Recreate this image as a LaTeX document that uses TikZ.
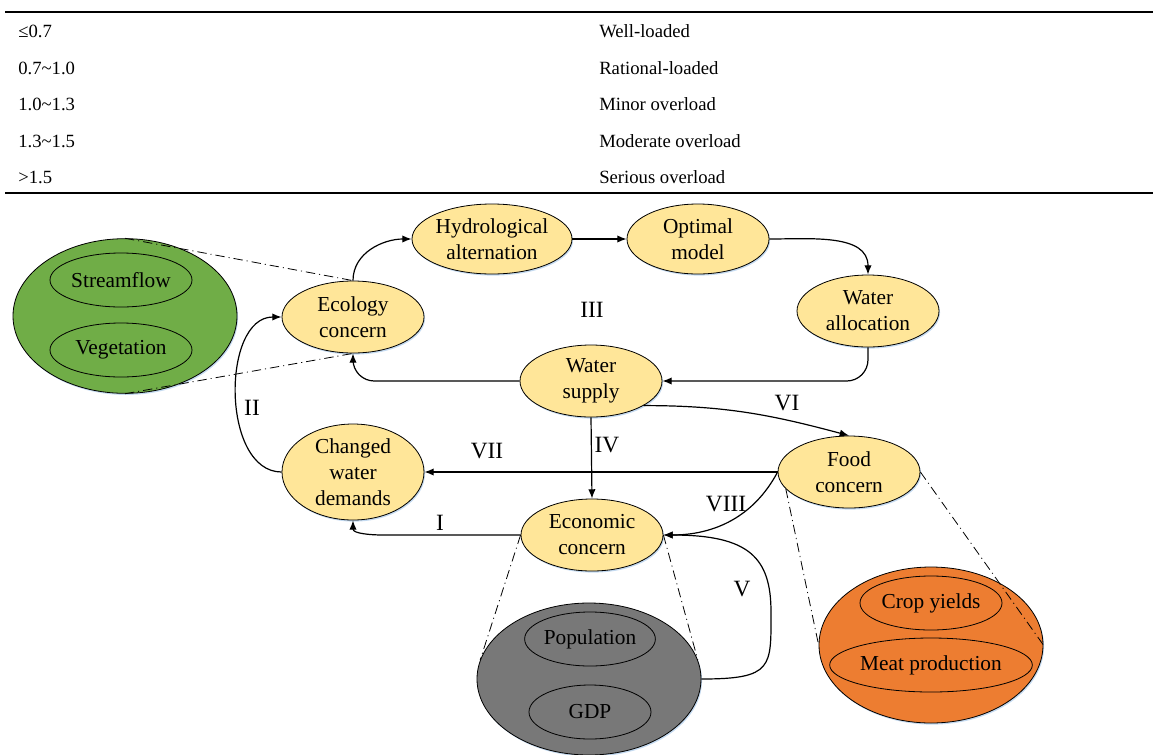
\documentclass[tikz,border=0pt]{standalone}
\usepackage{fontspec}
\setmainfont{Liberation Serif}
\usetikzlibrary{arrows.meta,shapes.geometric,shadows,calc}
\definecolor{yel}{RGB}{255,230,153}
\definecolor{grn}{RGB}{112,173,71}
\definecolor{gry}{RGB}{120,120,120}
\definecolor{org}{RGB}{237,125,49}
\definecolor{shd}{RGB}{196,218,240}
\begin{document}
\begin{tikzpicture}[x=0.75pt,y=0.75pt,
  ell/.style={ellipse, draw=black, line width=0.6pt, inner sep=0pt, align=center,
    font=\fontsize{16}{19.5}\selectfont},
  concept/.style={ell, fill=yel, minimum width=106.5pt, minimum height=54pt,
    drop shadow={shadow xshift=0.8pt, shadow yshift=-1.2pt, fill=shd, opacity=1}},
  bigell/.style={ell, minimum width=168pt, minimum height=116pt,
    drop shadow={shadow xshift=0.8pt, shadow yshift=-1.2pt, fill=shd, opacity=1}},
  sub/.style={ell, minimum height=40.5pt},
  arr/.style={line width=0.9pt, -{Latex[length=7pt,width=5.5pt]}},
  zoomline/.style={line width=0.6pt, dash pattern=on 7pt off 3pt on 0.8pt off 3pt},
  rn/.style={font=\fontsize{17.5}{21}\selectfont, inner sep=0pt},
  tab/.style={font=\fontsize{14}{16}\selectfont, inner sep=0pt, anchor=base west}
]
\useasboundingbox (0,0) rectangle (1153,-754);

% ---- table ----
\draw[line width=1.5pt] (5,-12) -- (1153,-12);
\draw[line width=1.5pt] (5,-193) -- (1153,-193);
\node[tab] (l1) at (18,-37) {≤0.7};
\node[tab] (l2) at (18,-74) {0.7\textasciitilde 1.0};
\node[tab] (l3) at (18,-110) {1.0\textasciitilde 1.3};
\node[tab] (l4) at (18,-147) {1.3\textasciitilde 1.5};
\node[tab] (l5) at (18,-183) {>1.5};
\node[tab] (r1) at (599,-37) {Well-loaded};
\node[tab] (r2) at (599,-74) {Rational-loaded};
\node[tab] (r3) at (599,-110) {Minor overload};
\node[tab] (r4) at (599,-147) {Moderate overload};
\node[tab] (r5) at (599,-183) {Serious overload};

% ---- big ellipses ----
\node[bigell, fill=grn] (green) at (125,-316) {};
\node[sub, minimum width=106.5pt] (stream) at (121,-280) {Streamflow};
\node[sub, minimum width=106.5pt] (veg) at (121,-350) {Vegetation};

\node[bigell, fill=gry, minimum height=114pt] (gray) at (589,-679) {};
\node[sub, minimum width=91.5pt] (pop) at (590,-639) {Population};
\node[sub, minimum width=91.5pt] (gdp) at (590,-712) {GDP};

\node[bigell, fill=org, minimum height=117pt] (orange) at (931,-645) {};
\node[sub, minimum width=106.5pt] (crop) at (931,-603) {Crop yields};
\node[sub, minimum width=152pt] (meat) at (931,-665) {Meat production};

% ---- concept ellipses ----
\node[concept] (eco) at (353,-317) {Ecology\\concern};
\node[concept, minimum width=120pt, minimum height=52.5pt] (hyd) at (492,-239) {Hydrological\\alternation};
\node[concept, minimum height=52.5pt] (opt) at (698,-239) {Optimal\\model};
\node[concept] (walloc) at (868,-311) {Water\\allocation};
\node[concept] (wsupply) at (591,-381) {Water\\supply};
\node[concept, minimum height=72pt] (cwd) at (353,-472) {Changed\\water\\demands};
\node[concept] (econ) at (592,-535) {Economic\\concern};
\node[concept] (food) at (849,-472) {Food\\concern};

% ---- connectors ----
\draw[arr] (eco.north) to[out=90,in=180] (hyd.west);
\draw[arr] (hyd.east) -- (opt.west);
\draw[arr] (opt.east) to[out=0,in=90] (walloc.north);
\draw[arr, rounded corners=16pt] (walloc.south) |- (wsupply.east);
\draw[arr, rounded corners=16pt] (wsupply.west) -| (eco.south);
\draw[arr] (cwd.west) to[out=180,in=180] (eco.west);
\draw[arr] (wsupply.south) -- (econ.north);
\draw[arr] (food.west) -- (cwd.east);
\draw[arr] (wsupply.-25) to[out=0,in=165] (food.north);
\draw[arr] (food.west) to[out=-118,in=0] (econ.east);
\coordinate (vturn) at (771,-612);
\draw[arr] (gray.east) .. controls +(72,0) and +(0,-55) .. (vturn)
  .. controls +(0,55) and +(85,0) .. (econ.east);
\draw[arr] (econ.west) -- ($(cwd.south |- econ.west)+(30,0)$) to[out=180,in=-90] (cwd.south);

% ---- zoom lines ----
\draw[zoomline] (green.north) -- (eco.north);
\draw[zoomline] (green.south) -- (eco.south);
\draw[zoomline] (econ.west) -- (gray.170);
\draw[zoomline] (econ.east) -- (gray.10);
\draw[zoomline] (food.-165) -- (orange.west);
\draw[zoomline] (food.east) -- (orange.east);

% ---- roman labels ----
\node[rn] (t3) at (592,-310) {III};
\node[rn] (t2) at (252,-408) {II};
\node[rn] (t4) at (607,-445) {IV};
\node[rn] (t6) at (787,-403) {VI};
\node[rn] (t7) at (487,-451) {VII};
\node[rn] (t1) at (440,-523) {I};
\node[rn] (t8) at (726,-504) {VIII};
\node[rn] (t5) at (742,-589) {V};
\end{tikzpicture}
\end{document}
